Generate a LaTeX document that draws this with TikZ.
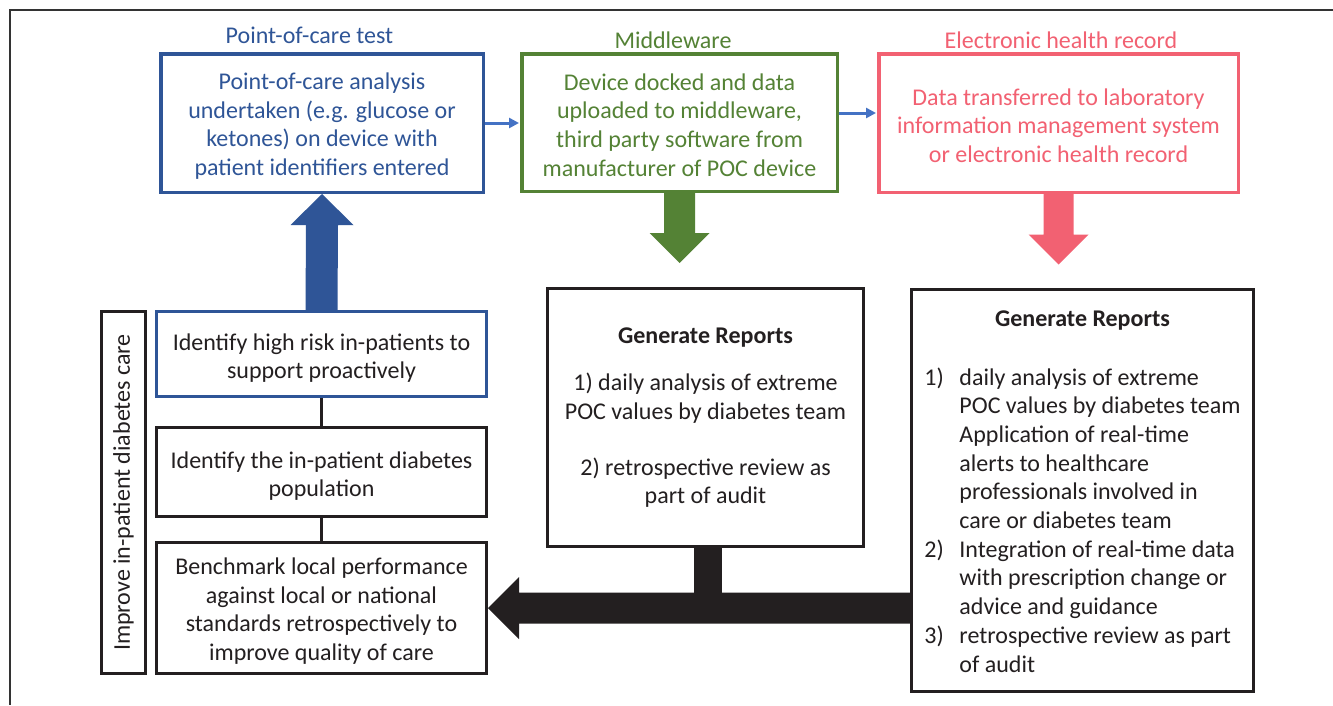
\documentclass[tikz,border=0pt]{standalone}
\usepackage{fontspec}
\setmainfont{Carlito}
\usetikzlibrary{arrows.meta,calc}
\definecolor{pocblue}{HTML}{2F5597}
\definecolor{linkblue}{HTML}{4472C4}
\definecolor{mwgreen}{HTML}{548235}
\definecolor{ehrred}{HTML}{F26172}
\definecolor{ink}{HTML}{231F20}
\tikzset{
  txt/.style={font=\fontsize{24}{28.7}\selectfont, inner sep=0pt, align=center},
  topbox/.style={draw, line width=3.5pt, inner sep=0pt},
  frame/.style={draw=ink, line width=3pt, inner sep=0pt},
  sidebox/.style={txt, draw=ink, text=ink, line width=3pt},
  title/.style={txt},
  link/.style={linkblue, line width=3pt, -{Triangle[length=10pt,width=10pt]}, shorten >=1pt},
  tie/.style={ink, line width=3pt},
}
\begin{document}
\begin{tikzpicture}[x=1pt,y=-1pt]
\useasboundingbox (0,0) rectangle (1333,705);
\fill[white] (0,0) rectangle (1333,705);
% outer frame
\draw[line width=1.5pt, black!80] (1333,10) -- (10,10) -- (10,705);

% titles
\node[title, text=pocblue] (poct) at (309.5,35) {Point-of-care test};
\node[title, text=mwgreen] (mwt) at (673,40) {Middleware};
\node[title, text=ehrred] (ehrt) at (1061,40) {Electronic health record};

% top boxes
\node[topbox, draw=pocblue, minimum width=322.5, minimum height=138.5] (poc) at (322,123) {};
\node[txt, text=pocblue] (poctxt) at ($(poc.center)+(0,3)$)
 {Point-of-care analysis\\undertaken (e.g. glucose or\\ketones) on device with\\patient identifiers entered};
\node[topbox, draw=mwgreen, minimum width=315.5, minimum height=137.5] (mw) at (679.5,122.5) {};
\node[txt, text=mwgreen] (mwtxt) at ($(mw.center)+(0,2.5)$)
 {Device docked and data\\uploaded to middleware,\\third party software from\\manufacturer of POC device};
\node[topbox, draw=ehrred, minimum width=359.5, minimum height=138.5] (ehr) at (1058.5,123) {};
\node[txt, text=ehrred] (ehrtxt) at ($(ehr.center)+(0,2.5)$)
 {Data transferred to laboratory\\information management system\\or electronic health record};

% small links
\draw[link] (poc.east) -- (mw.west |- poc.east);
\draw[link] ($(mw.east)+(0,-9.5)$) -- ($(ehr.west)+(0,-10)$);

% left column
\node[sidebox, rotate=90, minimum width=362, minimum height=44] (lab) at (123.5,492.5) {Improve in-patient diabetes care};
\node[frame, draw=pocblue, minimum width=330, minimum height=85] (r1) at (321.5,354) {};
\node[txt, text=ink] (r1txt) at ($(r1.center)+(0,4)$) {Identify high risk in-patients to\\support proactively};
\node[frame, minimum width=330, minimum height=89] (r2) at (321.5,472) {};
\node[txt, text=ink] (r2txt) at ($(r2.center)+(0,4)$) {Identify the in-patient diabetes\\population};
\node[frame, minimum width=330, minimum height=131] (r3) at (321.5,608) {};
\node[txt, text=ink] (r3txt) at ($(r3.center)+(0,3)$)
 {Benchmark local performance\\against local or national\\standards retrospectively to\\improve quality of care};
\draw[tie] (r1.south) -- (r2.north);
\draw[tie] (r2.south) -- (r3.north);

% report boxes
\node[sidebox, minimum width=316, minimum height=258] (rep1) at (705.5,417.5)
 {{\bfseries Generate Reports}\\[19pt]1) daily analysis of extreme\\POC values by diabetes team\\[27pt]2) retrospective review as\\part of audit};
\node[sidebox, minimum width=342, minimum height=402] (rep2) at (1082.5,490.5)
 {\begin{tabular}{@{}p{35pt}@{}l@{}}
  \multicolumn{2}{c}{\rule{0pt}{26pt}\bfseries Generate Reports}\\[30pt]
  1) & daily analysis of extreme\\
     & POC values by diabetes team\\
     & Application of real-time\\
     & alerts to healthcare\\
     & professionals involved in\\
     & care or diabetes team\\
  2) & Integration of real-time data\\
     & with prescription change or\\
     & advice and guidance\\
  3) & retrospective review as part\\
     & of audit
 \end{tabular}};

% block arrows
\coordinate (mwtip) at ($(mw.south)+(0,70)$);
\fill[mwgreen] ($(mw.south)+(-15.5,0)$) -- ($(mwtip)+(-15.5,-30)$) -- ($(mwtip)+(-30,-30)$) -- (mwtip)
  -- ($(mwtip)+(30,-30)$) -- ($(mwtip)+(15.5,-30)$) -- ($(mw.south)+(15.5,0)$) -- cycle;
\coordinate (ehrtip) at ($(ehr.south)+(0,70.5)$);
\fill[ehrred] ($(ehr.south)+(-15,0)$) -- ($(ehrtip)+(-15,-30)$) -- ($(ehrtip)+(-30,-30)$) -- (ehrtip)
  -- ($(ehrtip)+(30,-30)$) -- ($(ehrtip)+(15,-30)$) -- ($(ehr.south)+(15,0)$) -- cycle;
\fill[pocblue] ($(r1.north)+(-16,0)$) -- ($(poc.south)+(-16,31)$) -- ($(poc.south)+(-31.5,31)$) -- (poc.south)
  -- ($(poc.south)+(31.5,31)$) -- ($(poc.south)+(16,31)$) -- ($(r1.north)+(16,0)$) -- cycle;
\fill[ink] ($(rep2.west |- r3.east)+(0,-15.5)$) -- ($(r3.east)+(31,-15.5)$) -- ($(r3.east)+(31,-31)$) -- (r3.east)
  -- ($(r3.east)+(31,31)$) -- ($(r3.east)+(31,15.5)$) -- ($(rep2.west |- r3.east)+(0,15.5)$) -- cycle;
\fill[ink] ($(rep1.south)+(-11.5,0)$) rectangle ($(rep1.south |- r3.east)+(16.5,0)$);
\end{tikzpicture}
\end{document}
